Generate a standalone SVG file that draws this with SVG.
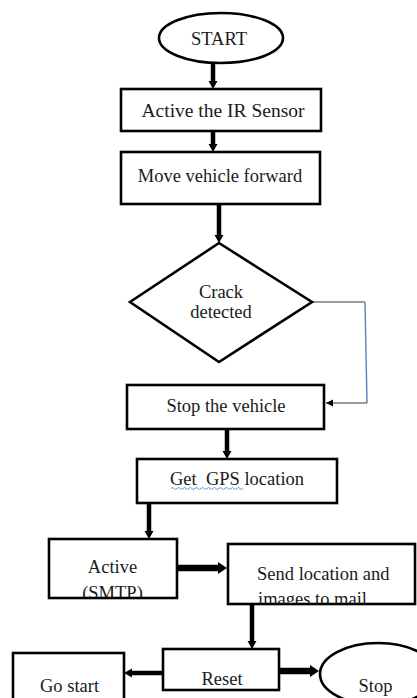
<svg xmlns="http://www.w3.org/2000/svg" width="417" height="698" viewBox="0 0 417 698">
<style>
.box{fill:#fff;stroke:#000;stroke-width:2.6}
.t{font-family:"Liberation Serif","Times New Roman",serif;font-size:18.5px;fill:#1a1a1a}
.m{text-anchor:middle}
.ar{stroke:#000;stroke-width:4.5;fill:none;marker-end:url(#ah)}
.ar2{stroke:#000;stroke-width:6.5;fill:none;marker-end:url(#ah2)}
</style>
<defs>
<marker id="ah" markerUnits="userSpaceOnUse" markerWidth="12" markerHeight="12" refX="2" refY="5" orient="auto">
<path d="M0,0.5 L8,5 L0,9.5 z" fill="#000"/>
</marker>
<marker id="ah2" markerUnits="userSpaceOnUse" markerWidth="12" markerHeight="14" refX="2" refY="6" orient="auto">
<path d="M0,0 L9,6 L0,12 z" fill="#000"/>
</marker>
<marker id="ahs" markerUnits="userSpaceOnUse" markerWidth="10" markerHeight="10" refX="7" refY="4" orient="auto">
<path d="M0,0.5 L7,4 L0,7.5 z" fill="#000"/>
</marker>
<clipPath id="cActive"><rect x="49" y="539" width="128" height="58"/></clipPath>
<clipPath id="cSend"><rect x="228" y="544" width="187" height="60"/></clipPath>
</defs>

<g id="connectors">
<path class="ar" d="M213,63 V83"/>
<path class="ar" d="M213,131 V146"/>
<path class="ar" d="M219,204 V237"/>
<path d="M312,302 H365" stroke="#3a3a3a" stroke-width="1.2" fill="none"/>
<path d="M365,302 L367,403" stroke="#5b7fb8" stroke-width="1.4" fill="none"/>
<path d="M367,403 H326" stroke="#3a3a3a" stroke-width="1.2" fill="none" marker-end="url(#ahs)"/>
<path class="ar" d="M227,429 V453"/>
<path class="ar" d="M149,503 V533"/>
<path class="ar2" d="M177,568 H220"/>
<path class="ar" d="M252,604 V643"/>
<path class="ar" d="M163,673 H130"/>
<path class="ar2" d="M279,671 H312"/>
</g>

<g id="start">
<ellipse cx="221" cy="38" rx="62" ry="25" class="box"/>
<text x="219" y="45" class="t m">START</text>
</g>

<g id="ir-sensor">
<rect x="121" y="89" width="200" height="42" class="box"/>
<text x="223" y="117" class="t m" style="font-size:19.5px">Active the IR Sensor</text>
</g>

<g id="move-forward">
<rect x="121" y="152" width="199" height="52" class="box"/>
<text x="220" y="182" class="t m">Move vehicle forward</text>
</g>

<g id="crack-detected">
<polygon points="219,243 312,302 219,362 130,302" class="box"/>
<text x="221" y="298" class="t m">Crack</text>
<text x="221" y="318" class="t m">detected</text>
</g>

<g id="stop-vehicle">
<rect x="127" y="385" width="197" height="44" class="box"/>
<text x="226" y="412" class="t m">Stop the vehicle</text>
</g>

<g id="gps">
<rect x="137" y="459" width="200" height="44" class="box"/>
<text x="237" y="485" class="t m" xml:space="preserve">Get  GPS location</text>
<path d="M171,488.5 q1.5,-2 3,0 t3,0 t3,0 t3,0 t3,0 t3,0 t3,0 t3,0 t3,0 t3,0 t3,0 t3,0 t3,0 t3,0 t3,0 t3,0 t3,0 t3,0 t3,0 t3,0 t3,0 t3,0 t3,0 t3,0" stroke="#4d7fe6" stroke-width="0.9" fill="none"/>
</g>

<g id="smtp">
<rect x="49" y="539" width="128" height="59" class="box"/>
<g clip-path="url(#cActive)">
<text x="112.5" y="573" class="t m">Active</text>
<text x="112.5" y="599" class="t m">(SMTP)</text>
</g>
</g>

<g id="send-mail">
<rect x="228" y="544" width="187" height="60" class="box"/>
<g clip-path="url(#cSend)">
<text x="257" y="580" class="t">Send location and</text>
<text x="258" y="605" class="t">images to mail</text>
</g>
</g>

<g id="reset">
<rect x="163" y="649" width="116" height="41" class="box"/>
<text x="222" y="685" class="t m">Reset</text>
</g>

<g id="go-start">
<rect x="13" y="653" width="111" height="52" class="box"/>
<text x="69.5" y="692" class="t m">Go start</text>
</g>

<g id="stop">
<ellipse cx="378" cy="674" rx="58" ry="31" class="box"/>
<text x="375.5" y="692" class="t m">Stop</text>
</g>
</svg>
